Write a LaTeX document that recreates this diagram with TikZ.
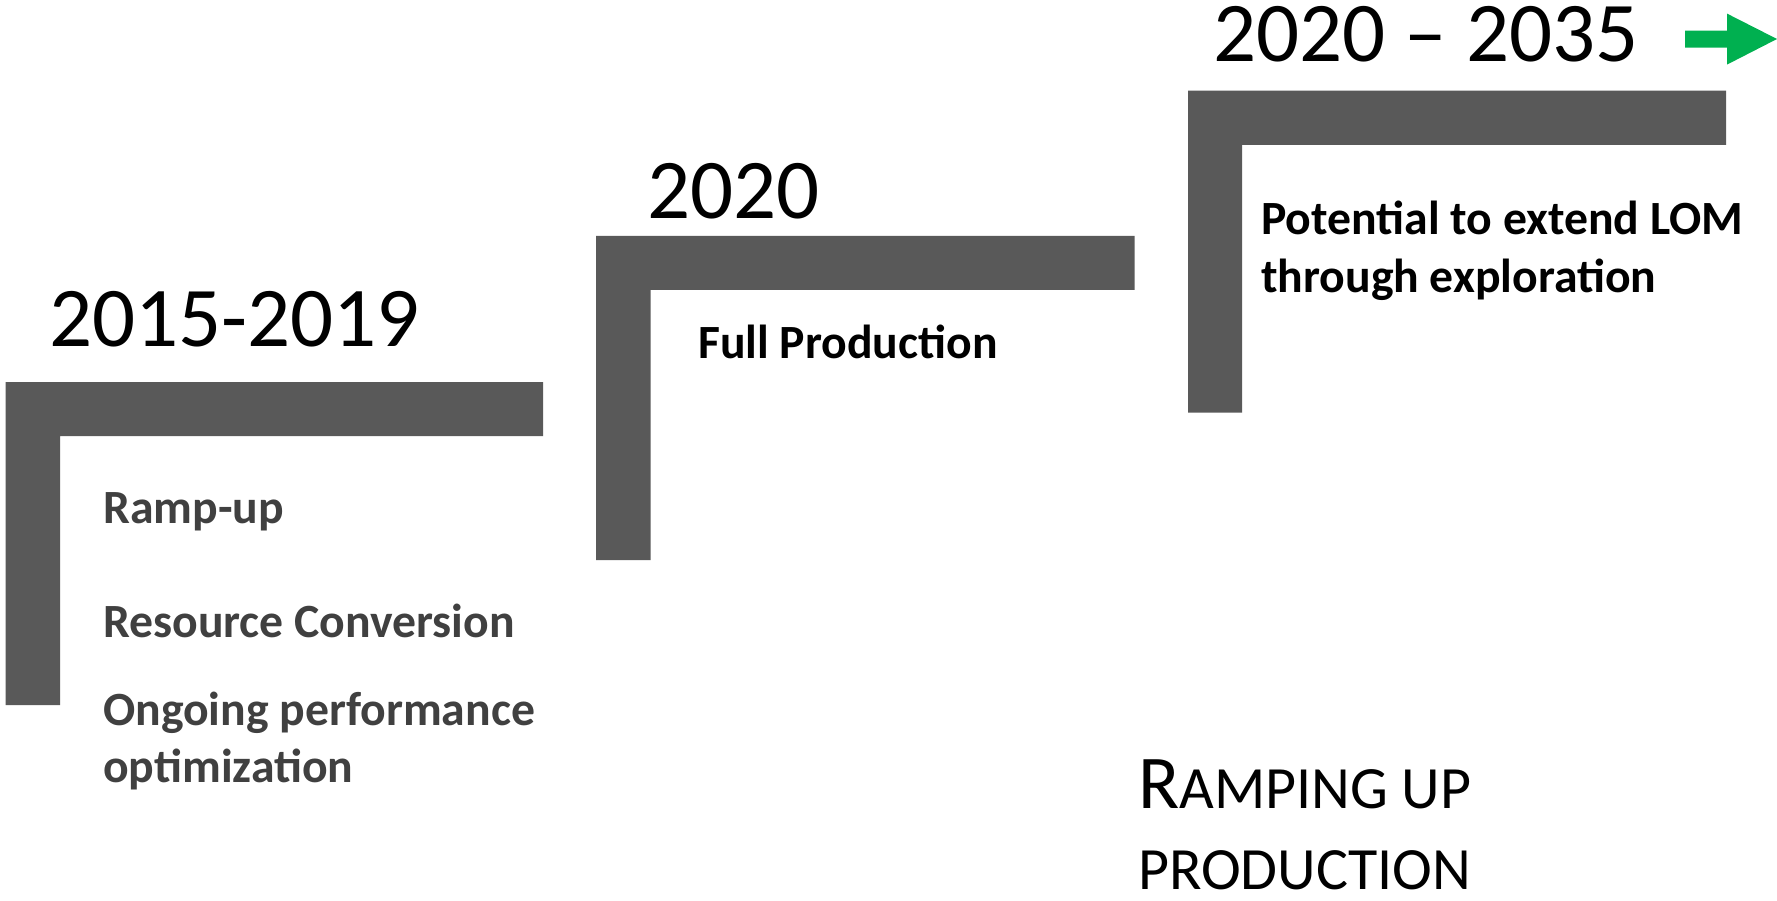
\documentclass[tikz,border=0pt]{standalone}
\usepackage{fontspec}
\setmainfont{Carlito}
\definecolor{barcol}{HTML}{595959}
\definecolor{txtgray}{HTML}{404040}
\definecolor{arrowgreen}{HTML}{00B050}
\begin{document}
\begin{tikzpicture}[x=1pt,y=-1pt,
  lbar/.style={fill=barcol},
  year/.style={anchor=base west,inner sep=0,font=\fontsize{85}{100}\selectfont},
  item/.style={anchor=base west,inner sep=0,font=\bfseries\fontsize{47.7}{57}\selectfont},
  graytxt/.style={text=txtgray},
  title/.style={anchor=base west,inner sep=0,font=\fontsize{60}{72}\selectfont}]
\useasboundingbox (0,0) rectangle (1777,901);
% L-shaped steps
\fill[lbar] (5.7,382) -- (543,382) -- (543,436) -- (60,436) -- (60,705) -- (5.7,705) -- cycle;
\fill[lbar] (596,236) -- (1134.5,236) -- (1134.5,290) -- (650.5,290) -- (650.5,560) -- (596,560) -- cycle;
\fill[lbar] (1188,90.7) -- (1726,90.7) -- (1726,145) -- (1242,145) -- (1242,412.5) -- (1188,412.5) -- cycle;
% years
\node[year] (y1) at (49,346) {2015-2019};
\node[year] (y2) at (647,218.7) {2020};
\node[year] (y3) at (1213,62) {2020 \textendash{} 2035};
% green arrow
\fill[arrowgreen] (1685,30.6) -- (1727,30.6) -- (1727,13.6) -- (1777,39) -- (1727,64.6) -- (1727,47.6) -- (1685,47.6) -- cycle;
% items
\node[item,graytxt] (a1) at (103,523.6) {Ramp-up};
\node[item,graytxt] (a2) at (103,637) {Resource Conversion};
\node[item,graytxt] (a3) at (103,725) {Ongoing performance};
\node[item,graytxt] (a4) at (103,782) {optimization};
\node[item] (b1) at (698,358) {Full Production};
\node[item] (c1) at (1261,234.6) {Potential to extend LOM};
\node[item] (c2) at (1261,292.4) {through exploration};
% title
\node[title] (t1) at (1138,808) {{\fontsize{76}{90}\selectfont R}AMPING UP};
\node[title] (t2) at (1138,889) {PRODUCTION};
\end{tikzpicture}
\end{document}
